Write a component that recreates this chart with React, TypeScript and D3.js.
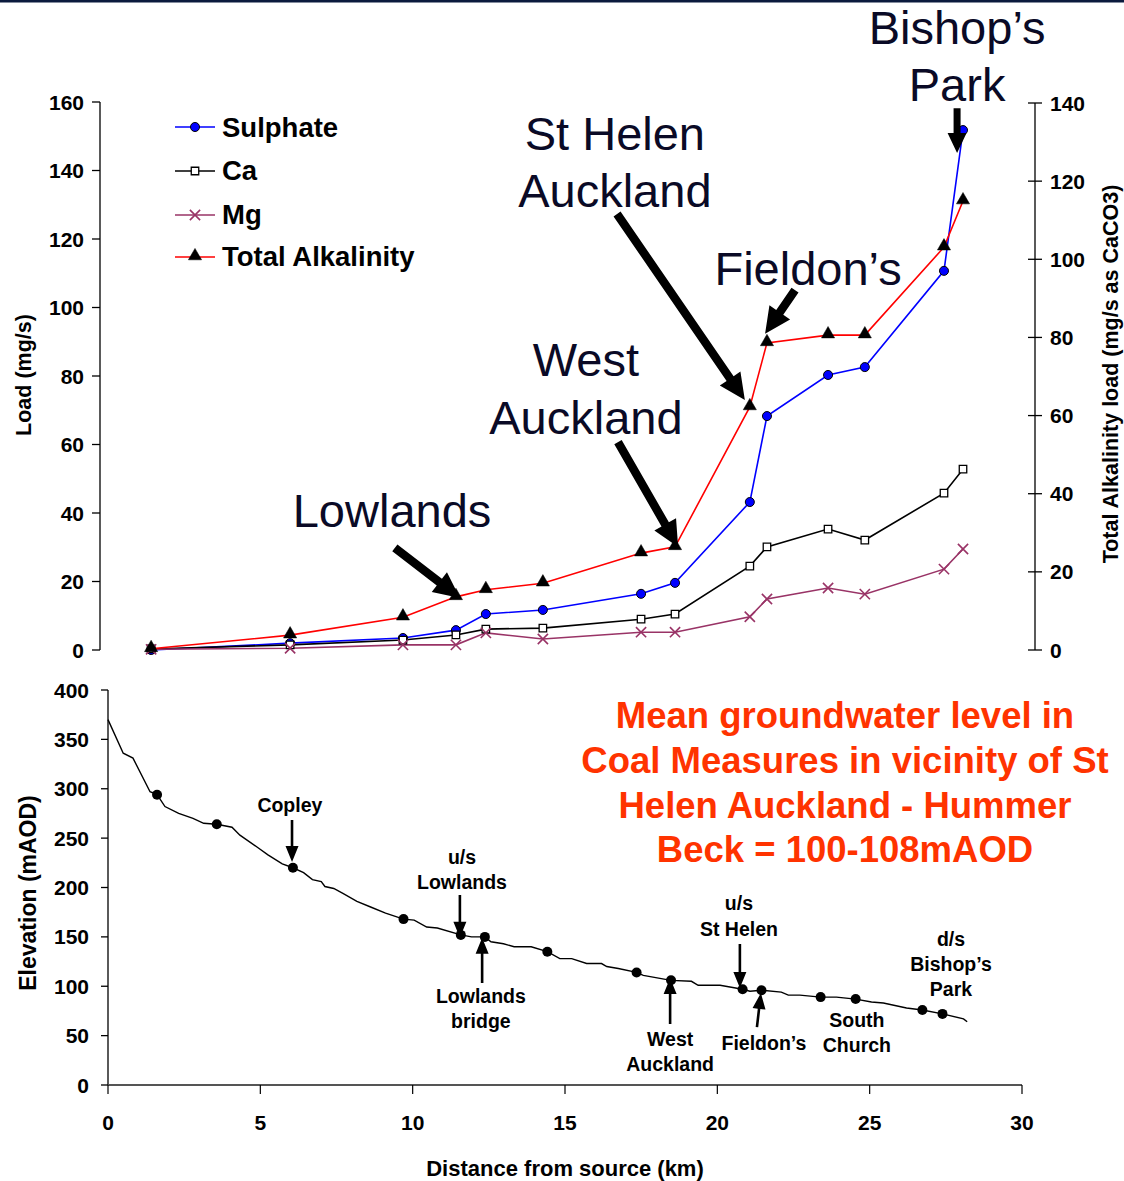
import React from "react";
import * as d3 from "d3";

// ---------- DATA ----------
const topKm = [1.64, 6.1, 9.72, 11.42, 12.38, 14.21, 17.36, 18.45, 20.85, 21.4, 23.36, 24.54, 27.08, 27.69];
const sulphate = [0, 2.0, 3.5, 5.8, 10.5, 11.7, 16.4, 19.6, 43.2, 68.3, 80.3, 82.6, 110.7, 151.8];
const ca = [0.3, 1.5, 2.9, 4.4, 6.1, 6.4, 9.0, 10.5, 24.5, 30.1, 35.3, 32.1, 45.8, 52.8];
const mg = [0.2, 0.5, 1.5, 1.5, 5.0, 3.2, 5.2, 5.2, 9.7, 14.9, 18.1, 16.3, 23.6, 29.5];
const totalAlkalinity = [0.3, 3.8, 8.4, 13.6, 15.4, 17.1, 24.8, 26.4, 62.2, 78.6, 80.6, 80.6, 103.1, 114.9];

const profileKm = [0, 0.5, 0.82, 1.38, 1.61, 1.87, 2.32, 2.79, 3.14, 3.57, 4.07, 4.33, 4.89, 5.25, 5.72, 6.07, 6.42, 6.71, 7.0, 7.12, 7.41, 7.71, 8.17, 8.64, 9.11, 9.7, 10.05, 10.46, 10.81, 11.58, 11.93, 12.37, 12.57, 12.98, 13.33, 13.89, 14.42, 14.83, 15.22, 15.71, 16.2, 16.37, 16.75, 17.35, 17.57, 18.48, 19.15, 19.37, 20.09, 20.83, 21.07, 21.45, 22.1, 22.33, 22.71, 23.39, 23.91, 24.54, 25.06, 25.45, 26.21, 26.73, 27.39, 28.08, 28.2];
const profileElev = [370, 336, 331, 297, 294, 282, 275, 270, 265, 264, 261, 253, 241, 233, 224, 220, 215, 208, 206, 201, 199, 194, 186, 180, 174, 168, 167, 160, 159, 152, 150, 150, 145, 143, 140, 140, 135, 128, 128, 123, 123, 120, 118, 114, 111, 106, 105, 101, 101, 97, 95, 96, 94, 91, 91, 89, 89, 87, 84, 83, 78, 76, 72, 67, 64];

const sampleKm = [1.61, 3.57, 6.07, 9.7, 11.58, 12.37, 14.42, 17.35, 18.48, 20.83, 21.45, 23.39, 24.54, 26.73, 27.39];
const sampleElev = [294, 264, 220, 168, 152, 150, 135, 114, 106, 97, 96, 89, 87, 76, 72];

const leftTicks = [0, 20, 40, 60, 80, 100, 120, 140, 160];
const rightTicks = [0, 20, 40, 60, 80, 100, 120, 140];
const elevTicks = [0, 50, 100, 150, 200, 250, 300, 350, 400];
const kmTicks = [0, 5, 10, 15, 20, 25, 30];

const seriesNames = ["Sulphate", "Ca", "Mg", "Total Alkalinity"];

// top annotations (km, left-axis value)
const topLabels = [
  { lines: ["Lowlands"], km: 9.37, v: [35.9], tail: [9.46, 29.8], tip: [11.55, 15.2] },
  { lines: ["West", "Auckland"], km: 15.59, v: [80, 63.1], tail: [16.62, 60.7], tip: [18.55, 30.1] },
  { lines: ["St Helen", "Auckland"], km: 16.52, v: [146, 129.3], tail: [16.59, 127.3], tip: [20.69, 73.0] },
  { lines: ["Fieldon\u2019s"], km: 22.72, v: [106.6], tail: [22.3, 105.1], tip: [21.34, 92.3] },
  { lines: ["Bishop\u2019s", "Park"], km: 27.5, v: [176.9, 160.3], tail: [27.5, 158.2], tip: [27.5, 145.1] },
];

// bottom annotations (km, elevation)
const bottomLabels = [
  { lines: ["Copley"], km: 5.97, e: [276.5], tail: [6.04, 268.4], tip: [6.04, 225.8] },
  { lines: ["u/s", "Lowlands"], km: 11.62, e: [223.8, 198.5], tail: [11.55, 192.4], tip: [11.55, 149] },
  { lines: ["Lowlands", "bridge"], km: 12.24, e: [83, 57.7], tail: [12.28, 103.3], tip: [12.28, 149] },
  { lines: ["West", "Auckland"], km: 18.45, e: [39.5, 14.2], tail: [18.45, 61.8], tip: [18.45, 108.4] },
  { lines: ["u/s", "St Helen"], km: 20.71, e: [177.2, 150.9], tail: [20.74, 142.8], tip: [20.74, 98.2] },
  { lines: ["Fieldon\u2019s"], km: 21.53, e: [35.4], tail: [21.3, 58.7], tip: [21.43, 93.2] },
  { lines: ["South", "Church"], km: 24.58, e: [58.7, 33.4] },
  { lines: ["d/s", "Bishop\u2019s", "Park"], km: 27.67, e: [140.8, 115.4, 90.1] },
];

const noteLines = [
  "Mean groundwater level in",
  "Coal Measures in vicinity of St",
  "Helen Auckland - Hummer",
  "Beck = 100-108mAOD",
];
const noteKm = 24.19;
const noteElev = [361.5, 316, 270.4, 225.8];

// ---------- LAYOUT ----------
const W = 1124, H = 1181;
const FONT = "'Liberation Sans', Arial, Helvetica, sans-serif";

const xTop = d3.scaleLinear().domain([0, 30]).range([100, 1035]);
const yLeft = d3.scaleLinear().domain([0, 160]).range([650, 102]);
const yRight = d3.scaleLinear().domain([0, 140]).range([650, 103]);
const xBot = d3.scaleLinear().domain([0, 30]).range([108, 1022]);
const yBot = d3.scaleLinear().domain([0, 400]).range([1085, 690]);

function arrowPath(x1: number, y1: number, x2: number, y2: number, shaft: number, headLen: number, headW: number) {
  const dx = x2 - x1, dy = y2 - y1;
  const L = Math.hypot(dx, dy);
  const ux = dx / L, uy = dy / L;
  const px = -uy, py = ux;
  const bx = x2 - ux * headLen, by = y2 - uy * headLen;
  const s = shaft / 2, h = headW / 2;
  const pts = [
    [x1 + px * s, y1 + py * s],
    [bx + px * s, by + py * s],
    [bx + px * h, by + py * h],
    [x2, y2],
    [bx - px * h, by - py * h],
    [bx - px * s, by - py * s],
    [x1 - px * s, y1 - py * s],
  ];
  return "M" + pts.map((p) => p[0].toFixed(2) + "," + p[1].toFixed(2)).join("L") + "Z";
}

const sym = (type: any, size: number) => d3.symbol().type(type).size(size)() as string;

export default function App() {
  const lineTop = (vals: number[], y: any) =>
    d3.line<number>().x((_, i) => xTop(topKm[i])).y((v) => y(v))(vals) as string;

  const profile = d3
    .line<number>()
    .x((k) => xBot(k))
    .y((_, i) => yBot(profileElev[i]))(profileKm) as string;

  const circle = sym(d3.symbolCircle, 64);
  const square = sym(d3.symbolSquare, 56);
  const cross = sym(d3.symbolX, 70);
  const tri = sym(d3.symbolTriangle, 75);

  const series = [
    { name: seriesNames[0], vals: sulphate, y: yLeft, color: "#0000FF", marker: "circle" },
    { name: seriesNames[1], vals: ca, y: yLeft, color: "#000000", marker: "square" },
    { name: seriesNames[2], vals: mg, y: yLeft, color: "#993366", marker: "cross" },
    { name: seriesNames[3], vals: totalAlkalinity, y: yRight, color: "#FF0000", marker: "tri" },
  ];

  const markerEl = (m: string, x: number, y: number, key: any) => {
    const t = `translate(${x},${y})`;
    if (m === "circle") return <path key={key} d={circle} transform={t} fill="#0000FF" stroke="#000" strokeWidth={1} />;
    if (m === "square") return <path key={key} d={square} transform={t} fill="#fff" stroke="#000" strokeWidth={1.3} />;
    if (m === "cross") return <path key={key} d={cross} transform={t} fill="none" stroke="#993366" strokeWidth={1.6} />;
    return <path key={key} d={tri} transform={t + " translate(0,-1)"} fill="#000" stroke="#000" strokeWidth={0.5} />;
  };

  const legendY = [127, 171, 215, 257];
  const legendBase = [137, 180, 224, 266];

  return (
    <svg width={W} height={H} style={{ position: "absolute", left: 0, top: 0, display: "block", background: "#fff" }} fontFamily={FONT}>
      <rect x={0} y={0} width={W} height={H} fill="#fff" />
      <rect x={0} y={0} width={W} height={2.5} fill="#0B1A3E" />

      {/* ---------- TOP CHART ---------- */}
      <line x1={100} x2={100} y1={yLeft(160)} y2={yLeft(0)} stroke="#000" strokeWidth={1.3} />
      {leftTicks.map((t) => (
        <g key={"lt" + t}>
          <line x1={92} x2={100} y1={yLeft(t)} y2={yLeft(t)} stroke="#000" strokeWidth={1.3} />
          <text x={84} y={yLeft(t) + 7.5} textAnchor="end" fontSize={21} fontWeight="bold">{t}</text>
        </g>
      ))}
      <text transform={`translate(31,375) rotate(-90)`} textAnchor="middle" fontSize={21.5} fontWeight="bold">Load (mg/s)</text>

      <line x1={1035} x2={1035} y1={yRight(140)} y2={yRight(0)} stroke="#000" strokeWidth={1.3} />
      {rightTicks.map((t) => (
        <g key={"rt" + t}>
          <line x1={1028} x2={1042} y1={yRight(t)} y2={yRight(t)} stroke="#000" strokeWidth={1.3} />
          <text x={1050} y={yRight(t) + 7.5} textAnchor="start" fontSize={21} fontWeight="bold">{t}</text>
        </g>
      ))}
      <text transform={`translate(1118,374) rotate(-90)`} textAnchor="middle" fontSize={21.5} fontWeight="bold">Total Alkalinity load (mg/s as CaCO3)</text>

      {series.map((s) => (
        <path key={"l" + s.name} d={lineTop(s.vals, s.y)} fill="none" stroke={s.color} strokeWidth={1.6} />
      ))}
      {series.map((s) => (
        <g key={"m" + s.name}>{s.vals.map((v, i) => markerEl(s.marker, xTop(topKm[i]), s.y(v), i))}</g>
      ))}

      {/* legend */}
      {series.map((s, i) => (
        <g key={"lg" + s.name}>
          <line x1={175} x2={215} y1={legendY[i]} y2={legendY[i]} stroke={s.color} strokeWidth={1.6} />
          {markerEl(s.marker, 195, legendY[i], "lm")}
          <text x={222} y={legendBase[i]} fontSize={27.5} fontWeight="bold">{s.name}</text>
        </g>
      ))}

      {/* top annotations */}
      {topLabels.map((a, i) => (
        <g key={"ta" + i}>
          {a.lines.map((ln, j) => (
            <text key={j} x={xTop(a.km)} y={yLeft(a.v[j])} textAnchor="middle" fontSize={47} fill="#0A0A26">{ln}</text>
          ))}
          <path
            d={arrowPath(xTop(a.tail[0]), yLeft(a.tail[1]), xTop(a.tip[0]), yLeft(a.tip[1]), i === 4 ? 7 : 8.5, i === 4 ? 20 : 26, i === 4 ? 19 : 25)}
            fill="#000"
          />
        </g>
      ))}

      {/* ---------- BOTTOM CHART ---------- */}
      <line x1={108} x2={108} y1={yBot(400)} y2={yBot(0)} stroke="#000" strokeWidth={1.3} />
      {elevTicks.map((t) => (
        <g key={"et" + t}>
          <line x1={101} x2={108} y1={yBot(t)} y2={yBot(t)} stroke="#000" strokeWidth={1.3} />
          <text x={89} y={yBot(t) + 7.5} textAnchor="end" fontSize={21} fontWeight="bold">{t}</text>
        </g>
      ))}
      <text transform={`translate(36,893) rotate(-90)`} textAnchor="middle" fontSize={23} fontWeight="bold">Elevation (mAOD)</text>

      <line x1={xBot(0)} x2={xBot(30)} y1={1085} y2={1085} stroke="#555" strokeWidth={1.8} />
      {kmTicks.map((t) => (
        <g key={"kt" + t}>
          <line x1={xBot(t)} x2={xBot(t)} y1={1085} y2={1094} stroke="#000" strokeWidth={1.2} />
          <text x={xBot(t)} y={1130} textAnchor="middle" fontSize={21} fontWeight="bold">{t}</text>
        </g>
      ))}
      <text x={565} y={1176} textAnchor="middle" fontSize={22} fontWeight="bold">Distance from source (km)</text>

      <path d={profile} fill="none" stroke="#000" strokeWidth={1.4} />
      {sampleKm.map((k, i) => (
        <circle key={"sd" + i} cx={xBot(k)} cy={yBot(sampleElev[i])} r={5} fill="#000" />
      ))}

      {bottomLabels.map((a, i) => (
        <g key={"ba" + i}>
          {a.lines.map((ln, j) => (
            <text key={j} x={xBot(a.km)} y={yBot(a.e[j])} textAnchor="middle" fontSize={19.5} fontWeight="bold">{ln}</text>
          ))}
          {a.tail && a.tip ? (
            <path d={arrowPath(xBot(a.tail[0]), yBot(a.tail[1]), xBot(a.tip[0]), yBot(a.tip[1]), 2.6, 16, 13)} fill="#000" />
          ) : null}
        </g>
      ))}

      {noteLines.map((ln, i) => (
        <text key={"n" + i} x={xBot(noteKm)} y={yBot(noteElev[i])} textAnchor="middle" fontSize={36.5} fontWeight="bold" fill="#FF3300">{ln}</text>
      ))}
    </svg>
  );
}
